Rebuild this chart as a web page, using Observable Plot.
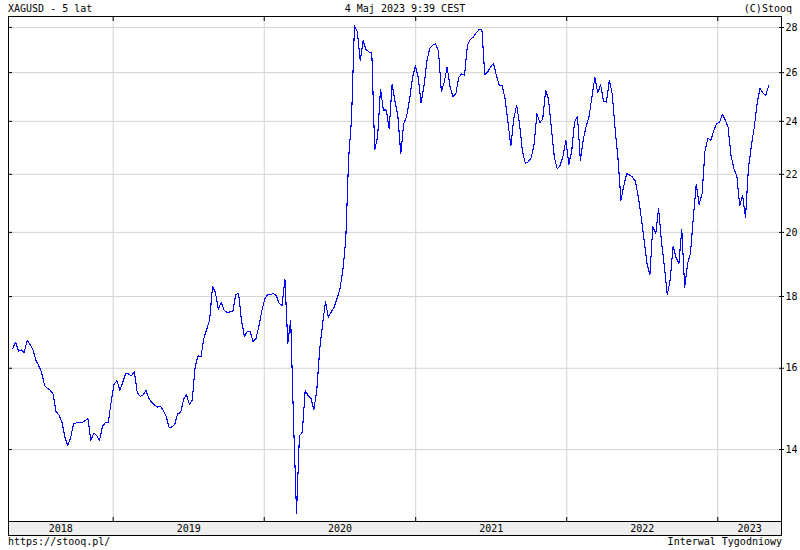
<!DOCTYPE html>
<html>
<head>
<meta charset="utf-8">
<script src="https://cdn.jsdelivr.net/npm/d3@7"></script>
<script src="https://cdn.jsdelivr.net/npm/@observablehq/plot@0.6"></script>
<style>
  body { margin: 0; background: #ffffff; }
  #chart { position: relative; width: 800px; height: 550px; font-family: "DejaVu Sans Mono", monospace; font-size: 10px; color: #000; overflow: hidden; }
  #chart svg { display: block; position: absolute; left: 0; }
  .txt { position: absolute; height: 16px; line-height: 16px; white-space: pre; }
</style>
</head>
<body>
<div id="chart"></div>
<script>
// ---- Data (weekly closes XAGUSD) ----
const lastWeek = "2023-05-04";
const prices = [
  16.52, 16.70, 16.46, 16.49, 16.42, 16.75, 16.64, 16.50, 16.22, 16.07,
  15.89, 15.56, 15.48, 15.43, 15.33, 14.90, 14.82, 14.65, 14.30, 14.10,
  14.26, 14.60, 14.63, 14.63, 14.63, 14.68, 14.73, 14.21, 14.38, 14.33,
  14.21, 14.55, 14.63, 14.63, 15.13, 15.58, 15.68, 15.43, 15.63, 15.86,
  15.85, 15.80, 15.92, 15.38, 15.28, 15.31, 15.43, 15.23, 15.13, 15.06,
  15.01, 15.03, 14.93, 14.79, 14.52, 14.53, 14.60, 14.86, 14.87, 15.20,
  15.33, 15.08, 15.18, 16.04, 16.33, 16.30, 16.80, 17.06, 17.31, 18.30,
  18.12, 17.63, 17.83, 17.60, 17.54, 17.55, 17.55, 18.06, 18.09, 17.31,
  16.86, 16.99, 17.00, 16.72, 16.80, 17.14, 17.57, 17.92, 18.06, 18.06,
  18.09, 18.03, 17.80, 17.74, 18.51, 16.67, 17.31, 14.60, 12.61, 14.32,
  14.40, 15.43, 15.30, 15.22, 14.95, 15.43, 16.50, 17.20, 17.85, 17.40,
  17.55, 17.69, 17.94, 18.23, 18.79, 19.75, 22.60, 24.10, 28.07, 27.80,
  26.50, 27.40, 27.00, 26.90, 26.85, 22.90, 23.40, 25.30, 24.45, 24.45,
  23.70, 25.50, 24.80, 24.20, 22.75, 23.90, 24.20, 24.85, 25.75, 26.30,
  25.80, 24.75, 25.42, 26.50, 27.05, 27.20, 27.25, 26.95, 25.20, 25.60,
  26.24, 25.40, 25.00, 25.10, 25.80, 25.94, 25.89, 27.20, 27.46, 27.55,
  27.75, 27.90, 27.90, 25.90, 26.03, 26.25, 26.40, 25.88, 25.45, 25.45,
  24.90, 23.95, 23.05, 24.10, 24.65, 23.90, 22.85, 22.40, 22.46, 22.60,
  23.10, 24.30, 23.95, 24.10, 25.26, 24.90, 23.70, 22.64, 22.20, 22.32,
  22.67, 23.27, 22.37, 22.85, 23.98, 24.20, 22.50, 23.30, 23.80, 24.20,
  25.00, 25.80, 25.15, 25.48, 24.80, 24.77, 25.68, 25.10, 23.70, 22.55,
  21.08, 21.60, 22.03, 21.97, 21.90, 21.75, 21.20, 20.50, 19.75, 19.00,
  18.65, 20.20, 19.95, 20.79, 19.70, 18.90, 18.05, 18.50, 19.55, 19.20,
  19.00, 20.10, 18.28, 19.00, 19.32, 20.50, 21.65, 20.95, 21.30, 22.84,
  23.35, 23.25, 23.62, 23.92, 23.95, 24.28, 24.05, 23.76, 22.70, 22.20,
  21.95, 20.90, 21.25, 20.50, 22.20, 23.05, 23.75, 24.70, 25.35, 25.15,
  25.05, 25.45
];
const yTicks = [14, 16, 18, 20, 22, 24, 26, 28];
const years = [2018, 2019, 2020, 2021, 2022, 2023];
const xDomain = [new Date("2018-04-23"), new Date("2023-06-04")];
const yDomain = [12.44, 28.51];

const titleLeft = "XAGUSD - 5 lat";
const titleCenter = "4 Maj 2023 9:39 CEST";
const titleRight = "(C)Stooq";
const footLeft = "https://stooq.pl/";
const footRight = "Interwal Tygodniowy";

// ---- Build tables ----
const end = new Date(lastWeek);
const data = prices.map((p, i) => ({
  date: d3.utcDay.offset(end, -7 * (prices.length - 1 - i)),
  price: p
}));
const yearStarts = years.slice(1).map(y => new Date(`${y}-01-01`));
const yearSeg = years.map(y => {
  const a = new Date(Math.max(+new Date(`${y}-01-01`), +xDomain[0]));
  const b = new Date(Math.min(+new Date(`${y + 1}-01-01`), +xDomain[1]));
  return {year: String(y), mid: new Date((+a + +b) / 2)};
});

const font = {fontFamily: "DejaVu Sans Mono, monospace", fontSize: "10px", background: "transparent", color: "#000", overflow: "visible"};

const main = Plot.plot({
  width: 800,
  height: 522,
  marginTop: 16,
  marginBottom: 1,
  marginLeft: 8,
  marginRight: 19,
  style: font,
  x: {type: "utc", domain: xDomain, label: null},
  y: {type: "log", domain: yDomain, label: null},
  marks: [
    Plot.ruleY(yTicks, {stroke: "#d3d3d3", strokeWidth: 1}),
    Plot.ruleX(yearStarts, {stroke: "#d3d3d3", strokeWidth: 1}),
    Plot.line(data, {x: "date", y: "price", stroke: "#0000ff", strokeWidth: 1.1, shapeRendering: "crispEdges"}),
    Plot.frame({stroke: "#000"}),
    Plot.axisY({anchor: "left", label: null, ticks: yTicks, tickSize: -4, tickFormat: () => "", stroke: "#000"}),
    Plot.axisY({anchor: "right", label: null, ticks: yTicks, tickSize: 5, tickPadding: 2, dx: -3, tickFormat: d => String(d), stroke: "#000", fill: "#000"}),
    Plot.axisX({anchor: "top", label: null, ticks: yearStarts, tickSize: -4, tickFormat: () => "", stroke: "#000"}),
    Plot.axisX({anchor: "bottom", label: null, ticks: yearStarts, tickSize: -4, tickFormat: () => "", stroke: "#000"})
  ]
});
main.style.top = "0px";

const band = Plot.plot({
  width: 800,
  height: 15,
  marginTop: 0,
  marginBottom: 1,
  marginLeft: 8,
  marginRight: 19,
  style: font,
  x: {type: "utc", domain: xDomain, axis: null},
  marks: [
    Plot.frame({fill: "#eeeeee", stroke: "#000"}),
    Plot.text(yearSeg, {x: "mid", text: "year", fill: "#000", frameAnchor: "middle", dy: 0.5})
  ]
});
band.style.top = "521px";

const chart = document.getElementById("chart");
chart.appendChild(main);
chart.appendChild(band);

function addText(str, css) {
  const d = document.createElement("div");
  d.className = "txt";
  d.textContent = str;
  Object.assign(d.style, css);
  chart.appendChild(d);
}
addText(titleLeft, {left: "8px", top: "1px"});
addText(titleCenter, {left: "405px", top: "1px", transform: "translateX(-50%)"});
addText(titleRight, {right: "8px", top: "1px"});
addText(footLeft, {left: "8px", top: "534px"});
addText(footRight, {right: "18px", top: "534px"});
</script>
</body>
</html>
